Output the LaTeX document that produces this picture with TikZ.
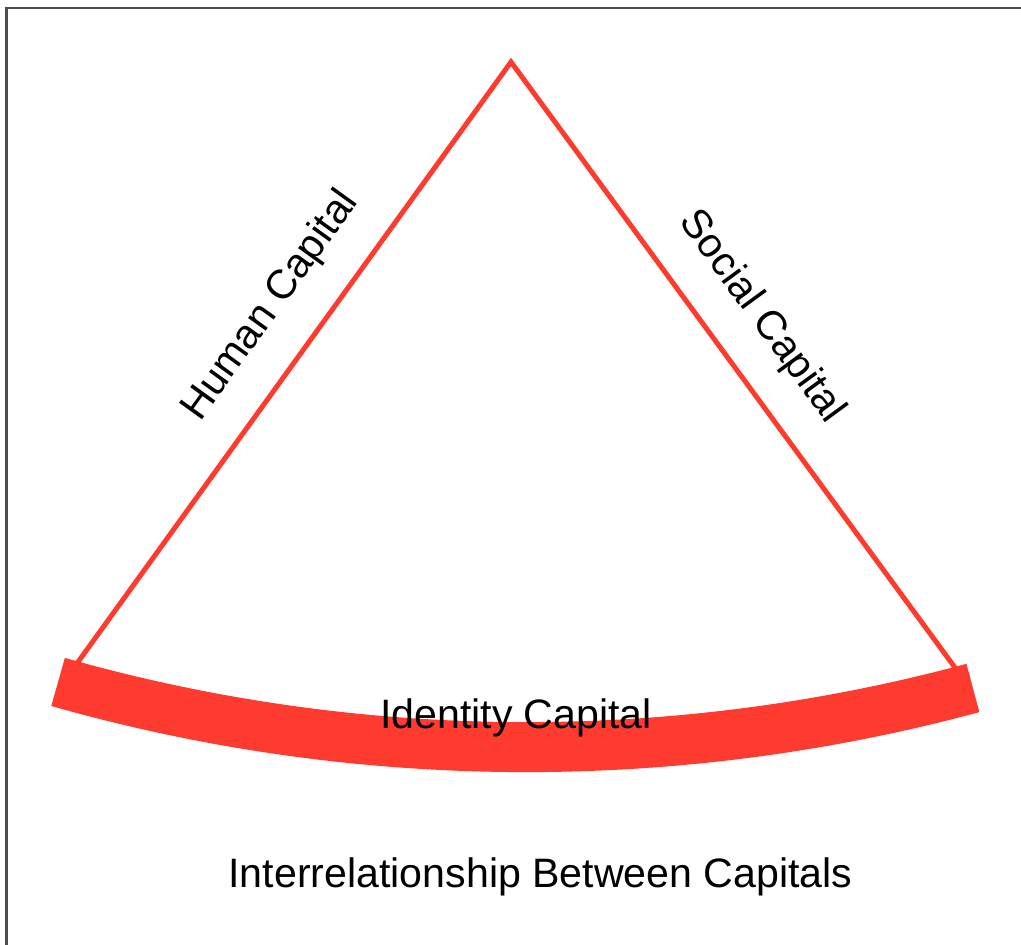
\documentclass[tikz,border=0pt]{standalone}
\usepackage{fontspec}
\setmainfont{Liberation Sans}
\definecolor{capred}{RGB}{255,59,48}
\tikzset{every picture/.append style={x=0.02cm, y=0.02cm}}
\tikzset{
    side/.style={draw=capred, line width=0.1cm, line join=miter},
    band/.style={draw=capred, line width=1cm},
    captext/.style={font=\fontsize{23.4}{28}\selectfont, inner sep=0pt}
}

\begin{document}
\begin{tikzpicture}
  \useasboundingbox (0,0) rectangle (1021,945);
  \draw[gray!60!black, line width=0.05cm] (6.5,0) -- (6.5,937) -- (1021,937);

  \coordinate (apex) at (511,883);
  \coordinate (hend) at (75.7,279.8);
  \coordinate (send) at (955.4,276.8);
  \coordinate (mid) at (526.3,1912.3);

  \draw[side] (hend) -- (apex) -- (send);
  \draw[band] (mid) ++(-105.85:1714.5) arc[start angle=-105.85, end angle=-74.9, radius=1714.5];

  \node[captext, rotate=54.2] (hcap) at (271,639) {Human Capital};
  \node[captext, rotate=-53.8] (scap) at (761.5,628) {Social Capital};
  \node[captext, anchor=base] (idcap) at (516,216) {Identity Capital};
  \node[captext, anchor=base] (title) at (540.5,57) {Interrelationship Between Capitals};
\end{tikzpicture}
\end{document}
